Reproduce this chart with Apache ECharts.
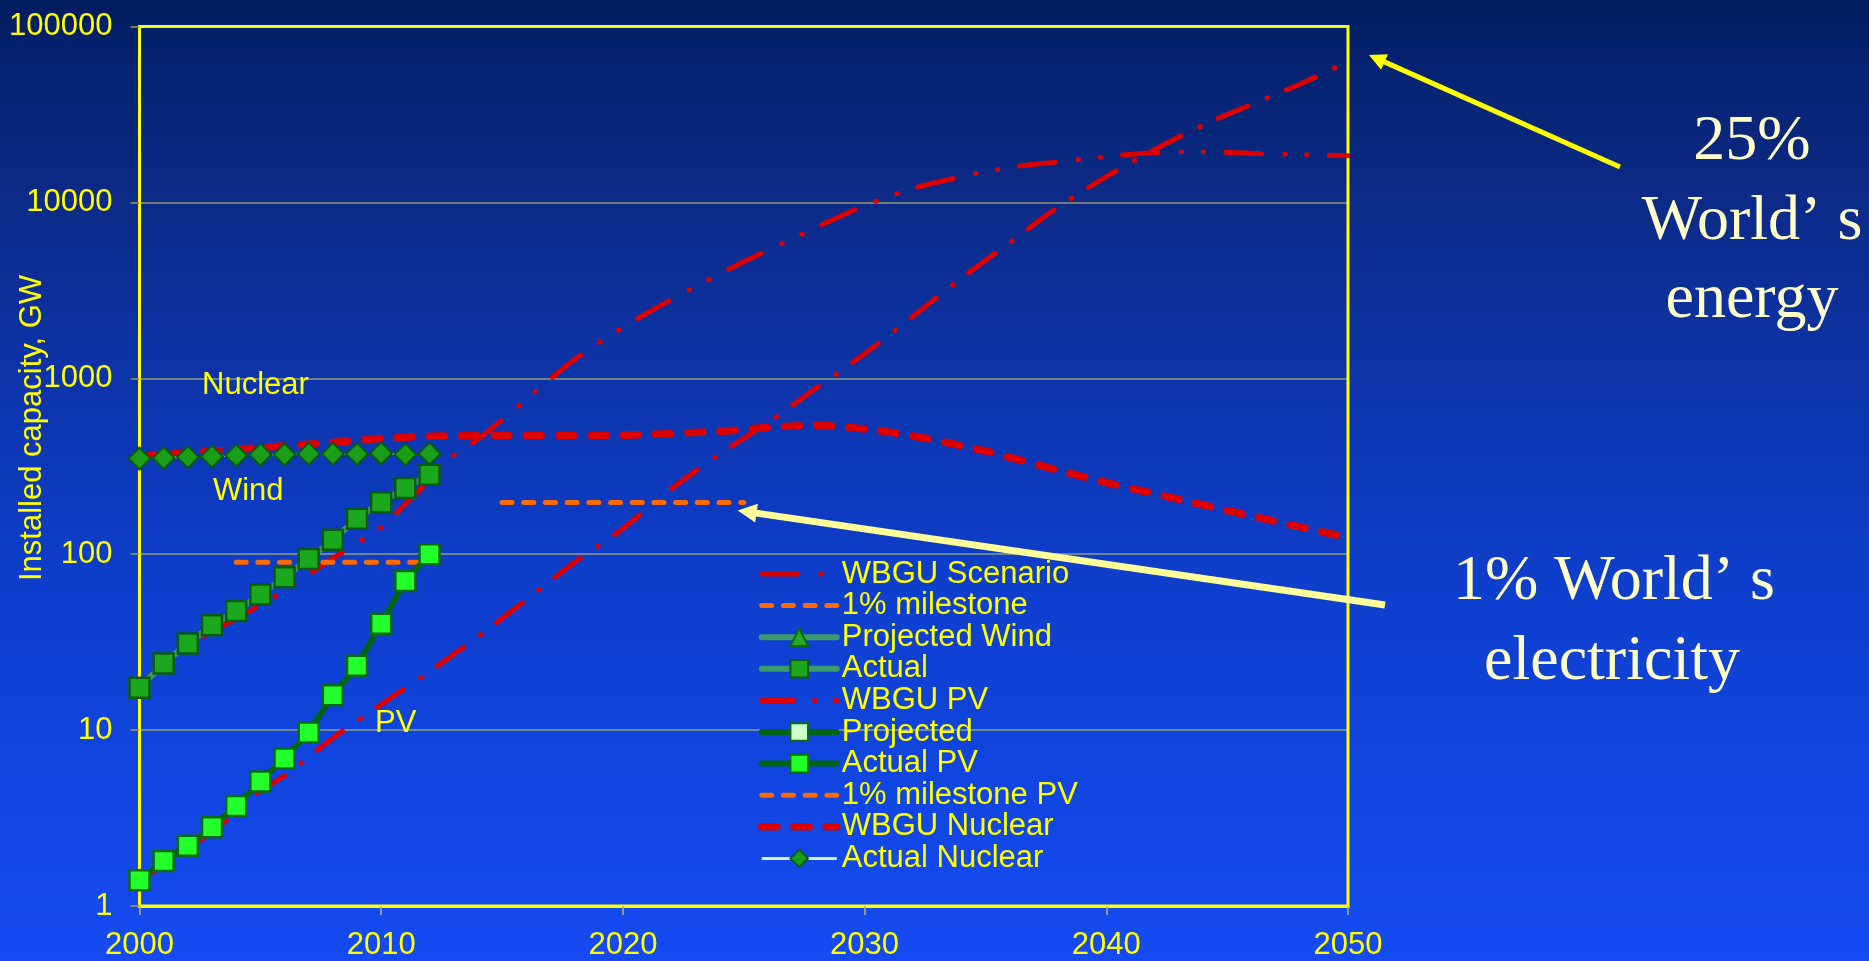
<!DOCTYPE html>
<html>
<head>
<meta charset="utf-8">
<script src="https://cdn.jsdelivr.net/npm/echarts@6/dist/echarts.min.js"></script>
<style>
html,body{margin:0;padding:0;background:#0d3cc8;}
#c{width:1869px;height:961px;}
</style>
</head>
<body>
<div id="c"></div>
<script>
// ---------- data ----------
const xTicks = [2000, 2010, 2020, 2030, 2040, 2050];
const yTicks = [1, 10, 100, 1000, 10000, 100000];

const actualYears   = [2000, 2001, 2002, 2003, 2004, 2005, 2006, 2007, 2008, 2009, 2010, 2011, 2012];
const windActual    = [17.4, 23.9, 31.1, 39.4, 47.6, 59.1, 74.0, 93.9, 120.7, 159.0, 197.6, 238.1, 282.6];
const pvActual      = [1.4, 1.8, 2.2, 2.8, 3.7, 5.1, 6.9, 9.7, 15.8, 23.2, 40.3, 70.5, 100];
const nuclearActual = [350, 352, 357, 359, 364, 368, 369, 372, 372, 371, 375, 369, 373];

const scenarioYears = [2000, 2002, 2004, 2006, 2008, 2010, 2011, 2012, 2013, 2014, 2015, 2016, 2017, 2018, 2020, 2022, 2025, 2028, 2030, 2032, 2034, 2036, 2038, 2040, 2042, 2044, 2046, 2048, 2050];
const scenarioVals  = [18, 30, 43, 62, 95, 142, 193, 263, 364, 450, 580, 760, 990, 1280, 1950, 2800, 4600, 7200, 9600, 12000, 14000, 15800, 17000, 18200, 19200, 19400, 19000, 18700, 18400];

const wbguPvYears = [2000, 2002, 2004, 2005, 2006, 2008, 2010, 2012, 2014, 2016, 2018, 2020, 2022, 2024, 2026, 2028, 2030, 2032, 2034, 2036, 2038, 2040, 2042, 2044, 2046, 2048, 2050];
const wbguPvVals  = [1.4, 2.1, 3.4, 4.5, 5.5, 9.0, 14.0, 21.5, 34, 55, 90, 140, 235, 370, 560, 880, 1380, 2250, 3700, 5900, 9400, 14000, 20000, 27500, 36000, 47000, 63000];

const nuclearYears = [2000, 2004, 2008, 2010, 2012, 2015, 2020, 2024, 2026, 2028, 2030, 2032, 2035, 2038, 2040, 2043, 2046, 2050];
const nuclearVals  = [358, 395, 432, 455, 468, 472, 475, 500, 525, 540, 515, 470, 385, 300, 255, 205, 165, 124];

const milestoneYears   = [2004, 2012];
const milestoneVals    = [90, 90];
const milestonePvYears = [2015, 2025];
const milestonePvVals  = [197, 197];

const plotLabels = [
  {text: 'Nuclear', year: 2004.8, value: 930},
  {text: 'Wind',    year: 2004.5, value: 231},
  {text: 'PV',      year: 2010.6, value: 11.1}
];

// ---------- helpers ----------
const zip = (xs, ys) => xs.map((x, i) => [x, ys[i]]);
const SANS = "'Liberation Sans', Arial, sans-serif";
const SERIF = "'Liberation Serif', 'Times New Roman', serif";
const YELLOW = '#ffff00';
const RED = '#dd0000';
const ORANGE = '#ff6a00';
const WINDLINE = '#3a9a6c';
const PVLINE = '#006414';
const noSym = {color: 'rgba(0,0,0,0)', borderColor: 'rgba(0,0,0,0)', borderWidth: 0};

const scenDash = [36, 23, 0.5, 21.5, 0.5, 22];
const pvDash = [32, 21, 0.5, 20];
const nucDash = [15, 17.3];
const msDash = [10, 11.7];

const chart = echarts.init(document.getElementById('c'), null, {renderer: 'canvas'});

const option = {
  animation: false,
  backgroundColor: {
    type: 'linear', x: 0, y: 0, x2: 0, y2: 1,
    colorStops: [
      {offset: 0, color: '#021c5e'},
      {offset: 0.05, color: '#05216d'},
      {offset: 0.2, color: '#0c2a86'},
      {offset: 0.4, color: '#0d34aa'},
      {offset: 0.6, color: '#0e3ecb'},
      {offset: 0.8, color: '#1145e0'},
      {offset: 1, color: '#164bf3'}
    ]
  },
  grid: {
    left: 139.5, right: 521, top: 26.5, bottom: 51.5,
    show: true, borderColor: YELLOW, borderWidth: 3, backgroundColor: 'transparent',
    containLabel: false
  },
  legend: {
    orient: 'vertical',
    left: 758, top: 558.5,
    padding: 0,
    itemWidth: 75, itemHeight: 22, itemGap: 0.6,
    selectedMode: false,
    textStyle: {color: YELLOW, fontSize: 31, fontFamily: SANS},
    data: [
      {name: 'WBGU Scenario', itemStyle: noSym, lineStyle: {width: 5, color: RED, type: scenDash, cap: 'round'}},
      {name: '1% milestone', itemStyle: noSym, lineStyle: {width: 5, color: ORANGE, type: msDash, cap: 'round'}},
      {name: 'Projected Wind', lineStyle: {width: 6, color: WINDLINE, type: 'solid', cap: 'round'}},
      {name: 'Actual', lineStyle: {width: 6, color: WINDLINE, type: 'solid', cap: 'round'}},
      {name: 'WBGU PV', itemStyle: noSym, lineStyle: {width: 5, color: RED, type: pvDash, cap: 'round'}},
      {name: 'Projected', lineStyle: {width: 6, color: PVLINE, type: 'solid', cap: 'round'}},
      {name: 'Actual PV', lineStyle: {width: 6, color: PVLINE, type: 'solid', cap: 'round'}},
      {name: '1% milestone PV', itemStyle: noSym, lineStyle: {width: 5, color: ORANGE, type: msDash, cap: 'round'}},
      {name: 'WBGU Nuclear', itemStyle: noSym, lineStyle: {width: 7.5, color: RED, type: nucDash, cap: 'round'}},
      {name: 'Actual Nuclear', lineStyle: {width: 3, color: '#d8ecff', type: 'solid'}}
    ]
  },
  xAxis: {
    type: 'value',
    min: xTicks[0], max: xTicks[xTicks.length - 1], interval: 10,
    axisLine: {show: true, onZero: false, lineStyle: {color: YELLOW, width: 3}},
    axisTick: {show: true, length: 9, lineStyle: {color: '#b8b860', width: 1.5}},
    axisLabel: {color: YELLOW, fontSize: 31, fontFamily: SANS, margin: 24, formatter: v => String(v)},
    splitLine: {show: false}
  },
  yAxis: {
    type: 'log', logBase: 10,
    min: yTicks[0], max: yTicks[yTicks.length - 1],
    axisLine: {show: true, lineStyle: {color: YELLOW, width: 3}},
    axisTick: {show: true, length: 9, lineStyle: {color: '#9a9a58', width: 1.5}},
    axisLabel: {color: YELLOW, fontSize: 31, fontFamily: SANS, margin: 27,
                formatter: v => String(Math.round(v))},
    splitLine: {show: true, lineStyle: {color: 'rgba(225,225,90,0.6)', width: 1.5}}
  },
  series: [
    {
      name: 'WBGU Scenario', type: 'line', data: zip(scenarioYears, scenarioVals),
      symbol: 'none', smooth: 0.3,
      lineStyle: {color: RED, width: 5, type: scenDash, cap: 'round'},
      itemStyle: {color: RED}
    },
    {
      name: '1% milestone', type: 'line', data: zip(milestoneYears, milestoneVals),
      symbol: 'none',
      lineStyle: {color: ORANGE, width: 5, type: msDash, cap: 'round'},
      itemStyle: {color: ORANGE}
    },
    {
      name: 'Projected Wind', type: 'line', data: [],
      symbol: 'triangle', symbolSize: 18,
      itemStyle: {color: '#22aa22', borderColor: '#0b6b0b', borderWidth: 2},
      lineStyle: {color: WINDLINE, width: 6}
    },
    {
      name: 'Actual', type: 'line', data: zip(actualYears, windActual),
      symbol: 'rect', symbolSize: 20,
      itemStyle: {color: '#1ca81c', borderColor: '#0a5a14', borderWidth: 2.5},
      lineStyle: {color: WINDLINE, width: 6}
    },
    {
      name: 'WBGU PV', type: 'line', data: zip(wbguPvYears, wbguPvVals),
      symbol: 'none', smooth: 0.3,
      lineStyle: {color: RED, width: 5, type: pvDash, cap: 'round'},
      itemStyle: {color: RED}
    },
    {
      name: 'Projected', type: 'line', data: [],
      symbol: 'rect', symbolSize: 18,
      itemStyle: {color: '#ccffcc', borderColor: '#0a6a14', borderWidth: 2},
      lineStyle: {color: PVLINE, width: 6}
    },
    {
      name: 'Actual PV', type: 'line', data: zip(actualYears, pvActual),
      symbol: 'rect', symbolSize: 20,
      itemStyle: {color: '#22ff2a', borderColor: '#0a6a14', borderWidth: 2.5},
      lineStyle: {color: PVLINE, width: 6}
    },
    {
      name: '1% milestone PV', type: 'line', data: zip(milestonePvYears, milestonePvVals),
      symbol: 'none',
      lineStyle: {color: ORANGE, width: 5, type: msDash, cap: 'round'},
      itemStyle: {color: ORANGE}
    },
    {
      name: 'WBGU Nuclear', type: 'line', data: zip(nuclearYears, nuclearVals),
      symbol: 'none', smooth: 0.3,
      lineStyle: {color: RED, width: 7.5, type: nucDash, cap: 'round'},
      itemStyle: {color: RED}
    },
    {
      name: 'Actual Nuclear', type: 'line', data: zip(actualYears, nuclearActual),
      symbol: 'diamond', symbolSize: 22,
      itemStyle: {color: '#1a9e1a', borderColor: '#0a5a14', borderWidth: 2},
      lineStyle: {color: '#d8ecff', width: 2, type: [3, 4]}
    }
  ]
};

chart.setOption(option);

// ---------- annotations ----------
function arrow(x1, y1, x2, y2, w, headLen, headHalf, color) {
  const dx = x2 - x1, dy = y2 - y1, L = Math.sqrt(dx * dx + dy * dy);
  const ux = dx / L, uy = dy / L;
  const bx = x2 - ux * headLen, by = y2 - uy * headLen;
  const px = -uy, py = ux;
  return [
    {type: 'line', shape: {x1: x1, y1: y1, x2: bx + ux * 2, y2: by + uy * 2},
     style: {stroke: color, lineWidth: w}, z: 100, silent: true},
    {type: 'polygon', shape: {points: [[x2, y2], [bx + px * headHalf, by + py * headHalf], [bx - px * headHalf, by - py * headHalf]]},
     style: {fill: color}, z: 100, silent: true}
  ];
}

const graphics = [];
plotLabels.forEach(l => {
  const p = chart.convertToPixel({xAxisIndex: 0, yAxisIndex: 0}, [l.year, l.value]);
  graphics.push({type: 'text', x: p[0], y: p[1] + 1.5, z: 90, silent: true,
    style: {text: l.text, fill: YELLOW, fontSize: 31, fontFamily: SANS, align: 'center', verticalAlign: 'middle'}});
});

graphics.push({type: 'text', x: 32, y: 428, rotation: Math.PI / 2, z: 90, silent: true,
  style: {text: 'Installed capacity, GW', fill: YELLOW, fontSize: 31, fontFamily: SANS, align: 'center', verticalAlign: 'middle'}});

const rightText = [
  {t: '25%', x: 1752, y: 142.5},
  {t: 'World\u2019 s', x: 1752, y: 222.5},
  {t: 'energy', x: 1752, y: 300.5},
  {t: '1% World\u2019 s', x: 1614, y: 582.5},
  {t: 'electricity', x: 1612, y: 662.5}
];
rightText.forEach(r => graphics.push({type: 'text', x: r.x, y: r.y, z: 90, silent: true,
  style: {text: r.t, fill: '#ffffcc', fontSize: 64, fontFamily: SERIF, align: 'center', verticalAlign: 'middle'}}));

arrow(1620, 167, 1369, 55, 5, 17, 8.5, YELLOW).forEach(g => graphics.push(g));
const tip2 = chart.convertToPixel({xAxisIndex: 0, yAxisIndex: 0}, [milestonePvYears[1], milestonePvVals[1]]);
arrow(1385, 605, tip2[0] - 6, tip2[1] + 8, 7, 19, 9.5, '#ffff99').forEach(g => graphics.push(g));

chart.setOption({graphic: graphics});
</script>
</body>
</html>
